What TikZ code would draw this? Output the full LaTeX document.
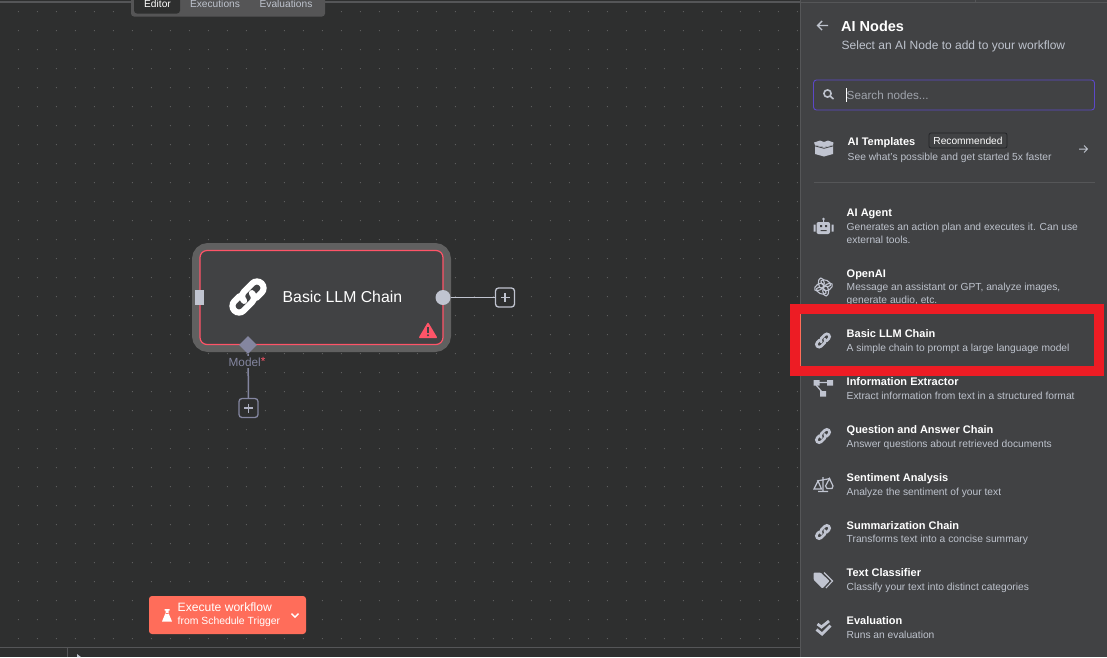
\documentclass[tikz,border=0pt]{standalone}
\usepackage{fontspec}
\setmainfont{Liberation Sans}
\usepackage{tikz}
\usetikzlibrary{positioning}
\usetikzlibrary{calc}
\usetikzlibrary{shapes.geometric}
\definecolor{canvasbg}{RGB}{46, 47, 47}
\definecolor{griddot}{RGB}{120, 120, 120}
\definecolor{panelbg}{RGB}{65, 66, 68}
\definecolor{panelline}{RGB}{85, 86, 88}
\definecolor{tabbg}{RGB}{85, 85, 86}
\definecolor{nodebg}{RGB}{65, 66, 68}
\definecolor{halo}{RGB}{96, 96, 96}
\definecolor{alarm}{RGB}{255, 84, 104}
\definecolor{portgray}{RGB}{192, 196, 208}
\definecolor{portmodel}{RGB}{132, 134, 160}
\definecolor{subtext}{RGB}{190, 195, 205}
\definecolor{marker}{RGB}{237, 28, 36}
\definecolor{execute}{RGB}{255, 109, 90}
\definecolor{searchline}{RGB}{92, 72, 200}
\tikzset{
    itemtitle/.style={anchor=base west, inner sep=0pt, text=white, font=\fontsize{11}{13}\selectfont\bfseries},
    itemtext/.style={anchor=base west, inner sep=0pt, text=subtext, font=\fontsize{10.25}{12}\selectfont},
    plusbox/.style={draw, rounded corners=3pt, line width=1.3pt, minimum size=19pt, inner sep=0pt, fill=canvasbg},
    tablabel/.style={inner sep=0pt, font=\fontsize{10.2}{12}\selectfont},
}
\newcommand{\linkicon}[4]{%
    \begin{scope}[shift={(#1,#2)}, rotate=45, scale=#3, y=1pt]
        \draw[#4, line width=#3*5.6pt, line cap=round] (5,-6) -- (11.5,-6) arc (-90:90:6) -- (1,6) arc (90:180:6);
        \draw[#4, line width=#3*5.6pt, line cap=round] (-5,6) -- (-11.5,6) arc (90:270:6) -- (-1,-6) arc (270:360:6);
    \end{scope}}
\begin{document}
\begin{tikzpicture}[x=1pt, y=-1pt]
    \useasboundingbox (0,0) rectangle (1107,657);
    \fill[canvasbg] (0,0) rectangle (1107,657);
    % Dot grid
    \foreach \i in {0,...,41} {
        \foreach \j in {0,...,33} {
            \fill[griddot] (18.3+19*\i, 11.7+19*\j) circle (0.5);
        }
    }
    % Top bar & tabs
    \fill[panelline] (0,0.8) rectangle (800,2.5);
    \fill[tabbg, rounded corners=3pt] (131,-6) rectangle (325,16.5);
    \fill[canvasbg, rounded corners=3pt] (134,-6) rectangle (180,13.5);
    \node[tablabel, text=white] (editor) at (157.5,3.5) {Editor};
    \node[tablabel, text=subtext] (executions) at (215,3.5) {Executions};
    \node[tablabel, text=subtext] (evaluations) at (286,3.5) {Evaluations};
    % Bottom bar
    \fill[panelline] (0,647) rectangle (800,648);
    \fill[panelline] (67,647) rectangle (68,657);
    \fill[subtext] (77,654) -- (81,657) -- (77,657) -- cycle;
    % Main node
    \node[draw=halo, line width=8pt, rounded corners=12pt, minimum width=251pt, minimum height=101pt, inner sep=0pt] (chainhalo) at (321.5,297.5) {};
    \node[draw=alarm, fill=nodebg, line width=1.2pt, rounded corners=7pt, minimum width=243pt, minimum height=94pt, inner sep=0pt] (chainnode) at (321.5,297.5) {};
    \node[text=white, inner sep=0pt, font=\fontsize{15.8}{18}\selectfont, anchor=base west] (chainlabel) at (282.5,302) {Basic LLM Chain};
    \linkicon{248}{297}{1.1}{white}
    % Warning triangle
    \fill[alarm, rounded corners=1pt] (428,322) -- (437.5,338) -- (418.5,338) -- cycle;
    \fill[nodebg] (427.1,327) rectangle (428.9,333);
    \fill[nodebg] (428,335.2) circle (1.1);
    % Ports
    \node[fill=portgray, minimum width=9pt, minimum height=15pt, inner sep=0pt] (inport) at (199.5,297.5) {};
    \node[circle, fill=portgray, minimum size=15pt, inner sep=0pt] (outport) at (443,297.5) {};
    \node[diamond, fill=portmodel, minimum size=18pt, inner sep=0pt] (modelport) at (248,345) {};
    \node[plusbox, draw=portgray] (outplus) at (505,297.5) {};
    \node[plusbox, draw=portmodel] (modelplus) at (248.5,408) {};
    \draw[portgray, line width=1.5pt] (outport) -- (outplus);
    \draw[portmodel, line width=1.5pt] (modelport) -- (modelplus);
    \draw[portgray, line width=1.3pt] ($(outplus)+(-4.5,0)$) -- ($(outplus)+(4.5,0)$) ($(outplus)+(0,-4.5)$) -- ($(outplus)+(0,4.5)$);
    \draw[portgray!70!portmodel, line width=1.3pt] ($(modelplus)+(-4.5,0)$) -- ($(modelplus)+(4.5,0)$) ($(modelplus)+(0,-4.5)$) -- ($(modelplus)+(0,4.5)$);
    \node[fill=canvasbg, inner sep=1pt, text=portmodel, font=\fontsize{11.8}{14}\selectfont] (modellabel) at (247,362) {Model\textcolor{alarm}{\raisebox{1pt}{*}}};
    % Execute button
    \node[fill=execute, rounded corners=3pt, minimum width=157pt, minimum height=38pt, inner sep=0pt] (executebtn) at (227.5,615) {};
    \node[anchor=base west, inner sep=0pt, text=white, font=\fontsize{12.1}{14}\selectfont] (executetop) at (177.5,611) {Execute workflow};
    \node[anchor=base west, inner sep=0pt, text=white, font=\fontsize{10.4}{12}\selectfont] (executesub) at (177.5,624) {from Schedule Trigger};
    \fill[white] (164.5,609) rectangle (169.5,610.5) (165.5,610) rectangle (168.5,614) (165.5,613) -- (168.5,613) -- (172,621.5) -- (162,621.5) -- cycle;
    \draw[white, line width=1.4pt] (291.5,613.5) -- (295,617) -- (298.5,613.5);
    % Side panel
    \fill[panelbg] (801,0) rectangle (1107,657);
    \fill[panelline] (800,0) rectangle (801,657);
    \fill[panelline] (801,2) rectangle (1107,3);
    \fill[panelline] (975,0) rectangle (976,2);
    \draw[subtext, line width=1.4pt] (828,25.5) -- (817.5,25.5) (822,21) -- (817.5,25.5) -- (822,30);
    \node[itemtitle, font=\fontsize{14.5}{16}\selectfont\bfseries] (paneltitle) at (841,31) {AI Nodes};
    \node[itemtext, font=\fontsize{12}{14}\selectfont] (panelsub) at (841.5,49) {Select an AI Node to add to your workflow};
    % Search box
    \node[draw=searchline, line width=0.9pt, rounded corners=3pt, minimum width=281pt, minimum height=30pt, inner sep=0pt] (searchbox) at (954,95) {};
    \draw[subtext, line width=1.6pt] (827.5,93.5) circle (3.6) (830,96) -- (833.5,99);
    \draw[white, line width=0.7pt] (846,88) -- (846,102);
    \node[itemtext, font=\fontsize{11.7}{14}\selectfont, text=subtext!75!panelbg] (searchtext) at (846.5,99) {Search nodes...};
    % Templates
    \fill[portgray] (815,145) -- (823.5,147) -- (833,145) -- (833,154) -- (824,156.5) -- (815,154) -- cycle;
    \fill[portgray] (814,142.5) -- (820,140.5) -- (824,142) -- (828,140.5) -- (833.5,142.5) -- (833,145) -- (824,147) -- (815,145) -- cycle;
    \draw[panelbg, line width=0.8pt] (814.5,145.8) -- (824,148.3) -- (833.5,145.8);
    \node[itemtitle] (templates) at (847.5,145.5) {AI Templates};
    \node[draw=panelline!130, line width=0.7pt, rounded corners=2pt, inner sep=0pt, minimum width=78pt, minimum height=15pt, text=white, font=\fontsize{10.2}{12}\selectfont] (recommended) at (968,140.5) {Recommended};
    \node[itemtext] (templatestext) at (847.5,160) {See what's possible and get started 5x faster};
    \draw[subtext, line width=1pt] (1079,149) -- (1087,149) (1084,145.5) -- (1087.5,149) -- (1084,152.5);
    \fill[panelline] (814,182) rectangle (1095,183);
    % AI Agent
    \node[itemtitle] (agent) at (846.5,216) {AI Agent};
    \node[itemtext] (agenttext) at (846.5,230) {Generates an action plan and executes it. Can use};
    \node[itemtext] (agentmore) at (846.5,243) {external tools.};
    \fill[portgray, rounded corners=2pt] (816.5,222) rectangle (830,234);
    \fill[portgray] (813.5,224.5) rectangle (815.5,231.5) (831.5,224.5) rectangle (833.5,231.5) (823,219) rectangle (824,222);
    \fill[portgray] (823.5,219) circle (1.4);
    \fill[panelbg] (820,225) rectangle (822,227) (825,225) rectangle (827,227) (820.5,230) rectangle (826.5,231);
    % OpenAI
    \node[itemtitle] (openai) at (846.5,277) {OpenAI};
    \node[itemtext] (openaitext) at (846.5,290) {Message an assistant or GPT, analyze images,};
    \node[itemtext] (openaimore) at (846.5,303) {generate audio, etc.};
    \foreach \a in {0,60,...,300} {
        \draw[portgray, line width=1.1pt] (823.5,287) ++(\a:4.4) ellipse[x radius=5.2, y radius=3, rotate=\a+35];
    }
    % Basic LLM Chain
    \node[itemtitle] (basic) at (846.5,337) {Basic LLM Chain};
    \node[itemtext] (basictext) at (846.5,351) {A simple chain to prompt a large language model};
    \linkicon{823}{340.5}{0.47}{portgray}
    \fill[execute] (800,314) rectangle (801,366);
    % Information Extractor
    \node[itemtitle] (extractor) at (846.5,385) {Information Extractor};
    \node[itemtext] (extractortext) at (846.5,399) {Extract information from text in a structured format};
    \fill[portgray] (813.5,380) rectangle (819.5,385.5) (827,380) rectangle (833,385.5) (820,391) rectangle (826,396.5);
    \draw[portgray, line width=1.2pt] (819,382.5) -- (827,382.5) (816,385) -- (822,392);
    % Question and Answer Chain
    \node[itemtitle] (question) at (846.5,433) {Question and Answer Chain};
    \node[itemtext] (questiontext) at (846.5,447) {Answer questions about retrieved documents};
    \linkicon{823}{436}{0.47}{portgray}
    % Sentiment Analysis
    \node[itemtitle] (sentiment) at (846.5,481) {Sentiment Analysis};
    \node[itemtext] (sentimenttext) at (846.5,495) {Analyze the sentiment of your text};
    \draw[portgray, line width=1.2pt] (823,477) -- (823,491.5) (818,491.5) -- (828,491.5) (817,481) -- (830,478.5);
    \draw[portgray, line width=1.2pt] (814,489) -- (818,481) -- (821.5,489) -- cycle (825.5,486) -- (829.5,478.5) -- (833,486) -- (832,488.5) -- (827,488.5) -- cycle;
    % Summarization Chain
    \node[itemtitle] (summary) at (846.5,529) {Summarization Chain};
    \node[itemtext] (summarytext) at (846.5,542) {Transforms text into a concise summary};
    \linkicon{823}{532}{0.47}{portgray}
    % Text Classifier
    \node[itemtitle] (classifier) at (846.5,576) {Text Classifier};
    \node[itemtext] (classifiertext) at (846.5,590) {Classify your text into distinct categories};
    \fill[portgray, rounded corners=1pt] (813.5,572.5) -- (820.5,572.5) -- (829.5,581) -- (822.5,588.5) -- (813.5,579.5) -- cycle;
    \draw[portgray, line width=1.1pt] (824,572.5) -- (832.5,581) -- (826,588);
    % Evaluation
    \node[itemtitle] (evaluation) at (846.5,624) {Evaluation};
    \node[itemtext] (evaluationtext) at (846.5,638) {Runs an evaluation};
    \draw[portgray, line width=2.8pt] (817.5,624) -- (821.5,627) -- (829,621) (816.5,629.5) -- (822,634) -- (830.5,625.5);
    % Red marker
    \draw[marker, line width=10pt] (794.5,309) rectangle (1099,371);
\end{tikzpicture}
\end{document}
